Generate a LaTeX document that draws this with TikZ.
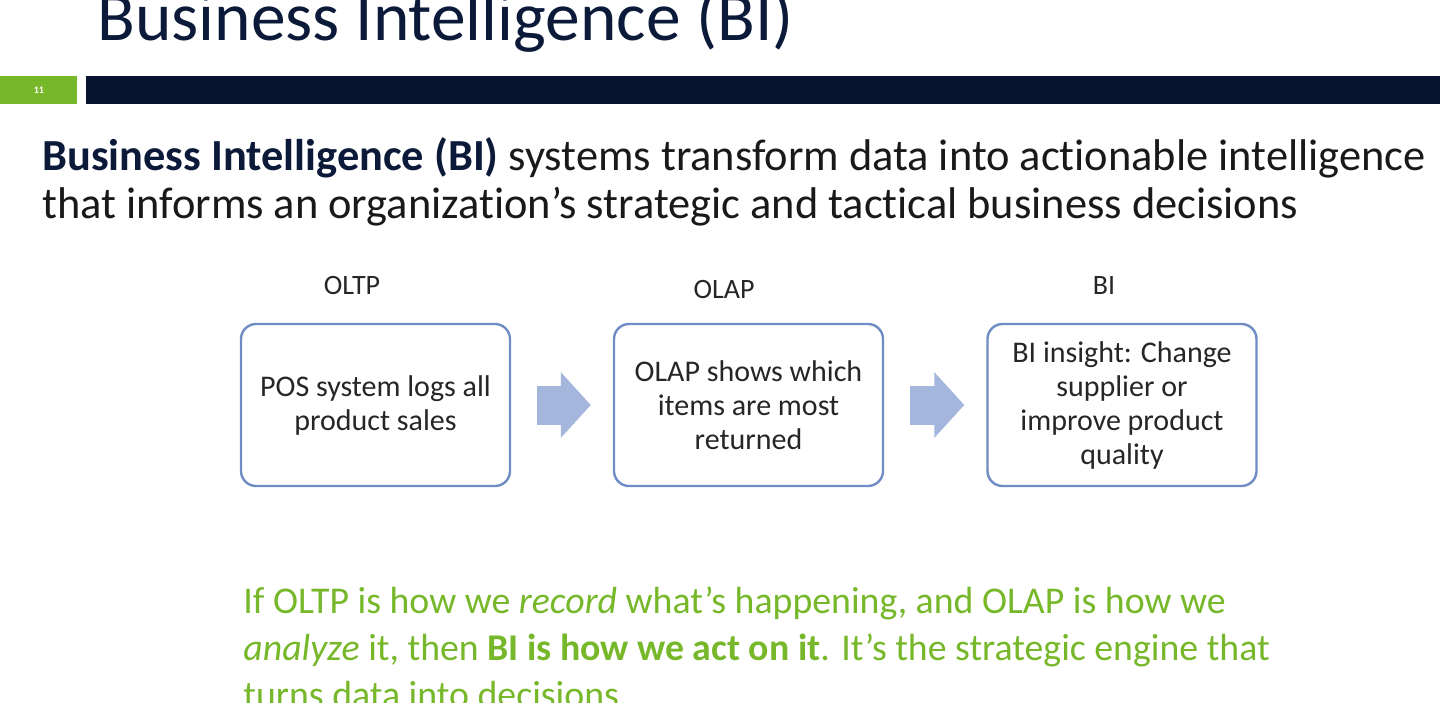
\documentclass[tikz,border=0pt]{standalone}
\usepackage{fontspec}
\setmainfont{Carlito}[Ligatures=NoCommon]
\usetikzlibrary{arrows.meta}

\definecolor{titlenavy}{HTML}{0C1A3A}
\definecolor{barnavy}{HTML}{08142F}
\definecolor{slidegreen}{HTML}{77B82A}
\definecolor{boxblue}{HTML}{6F8DC4}
\definecolor{arrowblue}{HTML}{A4B6DC}
\definecolor{notegreen}{RGB}{118,184,42}

\begin{document}
\begin{tikzpicture}[x=0.5pt,y=-0.5pt]
        \tikzstyle{stage}=[draw=boxblue, line width=1.2pt, rounded corners=7.5pt, minimum width=134.5pt, minimum height=81pt, inner sep=2pt, align=center, text=black!85, font=\fontsize{15}{17}\selectfont]
        \tikzstyle{stage label}=[inner sep=0pt, text=black!85, font=\fontsize{14}{17}\selectfont]
        \tikzstyle{block arrow}=[draw=arrowblue, line width=19.5pt, -{Triangle[length=15pt, width=32pt]}, shorten <=12.75pt, shorten >=11pt]
        \tikzstyle{slide text}=[anchor=base west, inner sep=0pt, align=left]

        % Page frame
        \fill[white] (0,0) rectangle (1440,702);
        \useasboundingbox (0,0) rectangle (1440,702);

        % Slide title and header bar
        \node[slide text, text=titlenavy, font=\fontsize{34.7}{40}\selectfont] (title) at (97,40) {Business Intelligence (BI)};
        \node[fill=slidegreen, anchor=north west, minimum width=38.5pt, minimum height=14pt, inner sep=0pt, text=white, font=\fontsize{5}{6}\bfseries] (num) at (0,76) {11};
        \fill[barnavy] (86,76) rectangle (1440,104);

        % Definition (base anchor sits on the last line)
        \node[slide text, text=black!90, font=\fontsize{22.2}{24}\selectfont] (intro) at (42,218)
            {{\bfseries\color{titlenavy}Business Intelligence (BI)} systems transform data into actionable intelligence\\
             that informs an organization’s strategic and tactical business decisions};

        % Draw the three stages
        \foreach \name / \x / \txt in {oltp/375.5/{POS system logs all\\product sales},
                                        olap/748.5/{OLAP shows which\\items are most\\returned},
                                        bi/1122/{BI insight: Change\\supplier or\\improve product\\quality}}
            \node[stage] (\name) at (\x,405) {\txt};

        % Annotate the stages
        \node[stage label] (oltp-l) at (352,286) {OLTP};
        \node[stage label] (olap-l) at (724,290) {OLAP};
        \node[stage label] (bi-l) at (1104,286) {BI};

        % Connect the stages
        \foreach \source / \dest in {oltp/olap, olap/bi}
            \draw[block arrow] (\source) -- (\dest);

        % Closing note
        \node[slide text, text=notegreen, font=\fontsize{18.9}{23.5}\selectfont] (note) at (243,707)
            {If OLTP is how we \textit{record} what’s happening, and OLAP is how we\\
             \textit{analyze} it, then \textbf{BI is how we act on it}. It’s the strategic engine that\\
             turns data into decisions.};

\end{tikzpicture}
\end{document}
